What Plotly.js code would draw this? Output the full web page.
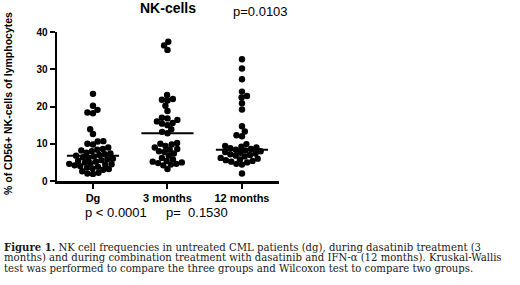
<!DOCTYPE html>
<html><head><meta charset="utf-8">
<script src="https://cdn.plot.ly/plotly-3.0.1.min.js"></script>
<style>html,body{margin:0;padding:0;background:#fff}#c{width:520px;height:285px}</style>
</head><body><div id="c"></div>
<script>
const categories = ["Dg", "3 months", "12 months"];
const dgValues = [23.4, 20.2, 19.1, 18.4, 18.2, 13.9, 12.6, 10.7, 10.6, 10.0, 9.8, 9.0, 8.6, 8.4, 8.2, 8.0, 7.6, 7.4, 7.2, 7.0, 6.8, 6.6, 6.4, 6.2, 6.0, 5.8, 5.6, 5.4, 5.2, 5.0, 4.8, 4.6, 4.5, 4.4, 4.2, 4.0, 3.8, 3.6, 3.4, 3.2, 3.0, 2.6, 2.2, 2.0, 1.9];
const m3Values = [37.4, 36.4, 35.2, 23.1, 22.0, 21.8, 21.6, 20.2, 18.8, 17.0, 16.8, 16.4, 16.0, 15.6, 15.4, 15.0, 13.9, 13.2, 12.8, 10.2, 10.0, 9.8, 9.4, 9.0, 8.6, 8.4, 8.0, 7.8, 7.4, 6.8, 6.2, 5.8, 5.4, 5.2, 5.0, 4.8, 4.6, 4.4, 4.2, 3.2];
const m12Values = [32.7, 30.2, 27.3, 24.0, 22.8, 22.4, 20.9, 19.2, 14.7, 13.3, 12.3, 12.0, 9.9, 9.4, 9.2, 9.0, 8.8, 8.6, 8.4, 8.2, 8.0, 7.8, 7.6, 7.4, 7.2, 7.0, 6.8, 6.6, 6.2, 6.0, 5.8, 5.6, 5.4, 5.2, 5.0, 4.6, 4.4, 2.0];
const medianLines = [6.8, 12.8, 8.4];
const yTicks = [0, 10, 20, 30, 40];
const chartTitle = "NK-cells";
const yTitle = "% of CD56+ NK-cells of lymphocytes";
const pKruskal = "p=0.0103";
const pDg3 = "p < 0.0001";
const p3vs12 = "p=  0.1530";
const captionLines = [
  "<b>Figure 1.</b> NK cell frequencies in untreated CML patients (dg), during dasatinib treatment (3",
  "months) and during combination treatment with dasatinib and IFN-α (12 months). Kruskal-Wallis",
  "test was performed to compare the three groups and Wilcoxon test to compare two groups."
];

// layout geometry (pixels)
const W = 520, H = 285;
const L = 57, R = 279, T = 32, B = 181;
const xRange = [-0.483, 2.497], yRange = [0, 40];
const pw = R - L, ph = B - T;
const pxPerX = pw / (xRange[1] - xRange[0]);
const pxPerY = ph / (yRange[1] - yRange[0]);
const px = x => (x - L) / pw;
const py = y => (B - y) / ph;

// beeswarm offsets computed from values in pixel space
function swarm(vals, d) {
  const order = vals.map((v, i) => i).sort((a, b) => vals[a] - vals[b]);
  const placed = [];
  const off = new Array(vals.length).fill(0);
  for (const i of order) {
    const y = vals[i] * pxPerY;
    const near = placed.filter(p => Math.abs(p.y - y) < d);
    const cands = [0];
    near.forEach(p => {
      const dx = Math.sqrt(d * d - (p.y - y) * (p.y - y));
      cands.push(p.x + dx + 0.01, p.x - dx - 0.01);
    });
    cands.sort((a, b) => Math.abs(a) - Math.abs(b) || a - b);
    let x = 0;
    for (const c of cands) {
      if (near.every(p => (p.x - c) ** 2 + (p.y - y) ** 2 >= d * d - 0.001)) { x = c; break; }
    }
    placed.push({x, y});
    off[i] = x / pxPerX;
  }
  return off;
}

const groups = [dgValues, m3Values, m12Values];
const traces = [];
groups.forEach((vals, gi) => {
  const o = swarm(vals, 5.6);
  traces.push({
    type: "scatter", mode: "markers",
    x: vals.map((v, i) => gi + o[i]), y: vals,
    marker: {color: "#000", size: 6.4, line: {width: 0}},
    hoverinfo: "skip", showlegend: false, cliponaxis: false
  });
  traces.push({
    type: "scatter", mode: "lines",
    x: [gi - 0.35, gi + 0.35], y: [medianLines[gi], medianLines[gi]],
    line: {color: "#000", width: 2}, hoverinfo: "skip", showlegend: false
  });
});

const ann = [];
ann.push({text: "<b>" + chartTitle + "</b>", x: px(168), y: py(8), xref: "paper", yref: "paper",
  xanchor: "center", yanchor: "middle", showarrow: false, font: {family: "Liberation Sans, Arial", size: 14, color: "#000"}});
ann.push({text: pKruskal, x: px(260), y: py(12), xref: "paper", yref: "paper",
  xanchor: "center", yanchor: "middle", showarrow: false, font: {family: "Liberation Sans, Arial", size: 13, color: "#000"}});
ann.push({text: pDg3, x: px(116), y: py(212), xref: "paper", yref: "paper",
  xanchor: "center", yanchor: "middle", showarrow: false, font: {family: "Liberation Sans, Arial", size: 13, color: "#000"}});
ann.push({text: p3vs12, x: px(197), y: py(212), xref: "paper", yref: "paper",
  xanchor: "center", yanchor: "middle", showarrow: false, font: {family: "Liberation Sans, Arial", size: 13, color: "#000"}});
ann.push({text: "<b>" + yTitle + "</b>", x: px(8), y: py(104), xref: "paper", yref: "paper",
  xanchor: "center", yanchor: "middle", textangle: -90, showarrow: false, font: {family: "Liberation Sans, Arial", size: 10.5, color: "#000"}});
captionLines.forEach((t, i) => {
  ann.push({text: t, x: px(2), y: py(247 + i * 10.6), xref: "paper", yref: "paper",
    xanchor: "left", yanchor: "middle", align: "left", showarrow: false,
    font: {family: "DejaVu Serif", size: 10.1, color: "#1a1a1a"}});
});

const layout = {
  width: W, height: H,
  margin: {l: L, r: W - R, t: T, b: H - B, pad: 0},
  paper_bgcolor: "#fff", plot_bgcolor: "#fff",
  showlegend: false,
  xaxis: {range: xRange, tickvals: [0, 1, 2], ticktext: categories.map(c => "<b>" + c + "</b>"),
    showgrid: false, zeroline: false, showline: true, linecolor: "#000", linewidth: 2.5,
    ticks: "outside", ticklen: 5, tickwidth: 2, tickcolor: "#000",
    tickfont: {family: "Liberation Sans, Arial", size: 11, color: "#000"}},
  yaxis: {range: yRange, tickvals: yTicks, ticktext: yTicks.map(v => "<b>" + v + "</b>"),
    showgrid: false, zeroline: false, showline: true, linecolor: "#000", linewidth: 2.5,
    ticks: "outside", ticklen: 5, tickwidth: 2, tickcolor: "#000",
    tickfont: {family: "Liberation Sans, Arial", size: 10, color: "#000"}},
  annotations: ann
};
Plotly.newPlot("c", traces, layout, {staticPlot: true, displayModeBar: false});
</script></body></html>
